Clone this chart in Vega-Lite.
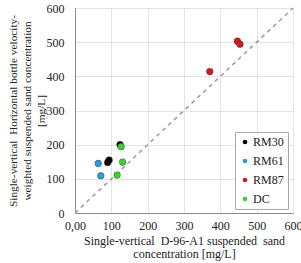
{
  "$schema": "https://vega.github.io/schema/vega-lite/v6.json",
  "width": 218,
  "height": 205,
  "autosize": {"type": "none"},
  "padding": {"left": 75, "top": 8, "right": 8, "bottom": 50},
  "background": "white",
  "config": {
    "font": "Liberation Serif",
    "view": {"stroke": "#8c8c8c", "strokeWidth": 1},
    "axis": {
      "gridColor": "#e3e3e3",
      "domainColor": "#8c8c8c",
      "ticks": false,
      "labelFontSize": 12,
      "labelColor": "#222",
      "titleFontSize": 12,
      "titleFontWeight": "normal",
      "titleColor": "#222",
      "labelFont": "Liberation Serif",
      "titleFont": "Liberation Serif",
      "labelOverlap": false,
      "labelBound": false,
      "labelFlush": false
    }
  },
  "datasets": {
    "diag": [{"x": 0, "y": 0}, {"x": 600, "y": 600}],
    "pts": [
      {"series": "RM30", "x": 90, "y": 148},
      {"series": "RM30", "x": 94, "y": 155},
      {"series": "RM30", "x": 124, "y": 200},
      {"series": "RM61", "x": 64, "y": 145},
      {"series": "RM61", "x": 71, "y": 109},
      {"series": "RM87", "x": 447, "y": 503},
      {"series": "RM87", "x": 454, "y": 494},
      {"series": "RM87", "x": 371, "y": 414},
      {"series": "DC", "x": 127, "y": 194},
      {"series": "DC", "x": 131, "y": 149},
      {"series": "DC", "x": 116, "y": 111}
    ]
  },
  "encoding": {
    "x": {
      "field": "x", "type": "quantitative",
      "scale": {"domain": [0, 600]},
      "axis": {
        "values": [0, 100, 200, 300, 400, 500, 600],
        "labelExpr": "datum.value == 0 ? '0,00' : datum.label",
        "labelPadding": 7,
        "title": ["Single-vertical\u00a0\u00a0D-96-A1 suspended\u00a0\u00a0sand", "concentration [mg/L]"],
        "titleLineHeight": 13,
        "titlePadding": 4
      }
    },
    "y": {
      "field": "y", "type": "quantitative",
      "scale": {"domain": [0, 600]},
      "axis": {
        "values": [0, 100, 200, 300, 400, 500, 600],
        "labelPadding": 11,
        "title": ["Single-vertical\u00a0\u00a0Horizontal bottle velocity-", "weighted suspended sand concentration", "[mg/L]"],
        "titleFontSize": 11.3,
        "titleLineHeight": 14,
        "titlePadding": 0
      }
    }
  },
  "layer": [
    {
      "data": {"name": "diag"},
      "mark": {"type": "line", "color": "#9a9a9a", "strokeDash": [4, 4], "strokeWidth": 1.5}
    },
    {
      "data": {"name": "pts"},
      "mark": {"type": "point", "filled": true, "size": 45, "opacity": 1, "stroke": "#333", "strokeWidth": 0.4},
      "encoding": {
        "color": {
          "field": "series", "type": "nominal",
          "scale": {"domain": ["RM30", "RM61", "RM87", "DC"], "range": ["#000000", "#2b9bd3", "#d01c1c", "#3fcf35"]},
          "legend": {
            "title": null,
            "orient": "none",
            "legendX": 160,
            "legendY": 124,
            "strokeColor": "#aaaaaa",
            "fillColor": "white",
            "padding": 4,
            "symbolType": "circle",
            "symbolSize": 22,
            "symbolStrokeWidth": 0,
            "labelFontSize": 12,
            "labelFont": "Liberation Serif",
            "labelColor": "#222",
            "labelOffset": 2,
            "rowPadding": 7
          }
        }
      }
    }
  ]
}
